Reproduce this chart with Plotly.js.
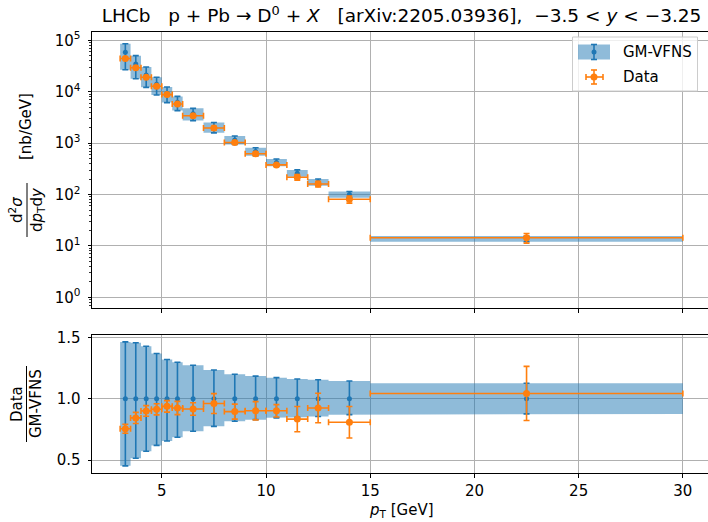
<!DOCTYPE html>
<html><head><meta charset="utf-8">
<script src="https://cdn.plot.ly/plotly-3.0.1.min.js"></script>
<style>html,body{margin:0;padding:0;overflow:hidden;background:#fff;width:708px;height:522px}</style>
</head><body><div id="chart" style="width:711px;height:522px"></div>
<script>
// pT bins [GeV]
const binLo = [3, 3.5, 4, 4.5, 5, 5.5, 6, 7, 8, 9, 10, 11, 12, 13, 15];
const binHi = [3.5, 4, 4.5, 5, 5.5, 6, 7, 8, 9, 10, 11, 12, 13, 15, 30];
const binCenter = [3.25, 3.75, 4.25, 4.75, 5.25, 5.75, 6.5, 7.5, 8.5, 9.5, 10.5, 11.5, 12.5, 14, 22.5];
// GM-VFNS prediction (nb/GeV): central, lower, upper
const theory   = [59000, 34700, 21300, 14000, 9400, 6270, 3740, 2050, 1150, 688, 419, 260, 174, 100, 13.8];
const theoryLo = [26800, 17900, 12200, 8690, 6170, 4310, 2750, 1590, 940, 571, 354, 221, 149, 87.1, 12.1];
const theoryHi = [86300, 50500, 30400, 19150, 12400, 8130, 4760, 2530, 1380, 815, 491, 302, 201, 114.5, 15.55];
// LHCb data (nb/GeV) and uncertainty
const dataVal = [44600, 29300, 19200, 12800, 8820, 5800, 3430, 1970, 1030, 621, 378, 217, 161, 80.9, 14.4];
const dataErr = [2180, 1560, 916, 630, 442, 339, 191, 166, 70, 51, 21, 26.8, 20.9, 12.8, 3.04];
// tick labels
const yTopTicks = [1, 10, 100, 1000, 10000, 100000];
const yTopTickText = ['10<sup>0</sup>', '10<sup>1</sup>', '10<sup>2</sup>', '10<sup>3</sup>', '10<sup>4</sup>', '10<sup>5</sup>'];
const xTicks = [5, 10, 15, 20, 25, 30];
const yBotTicks = [0.5, 1.0, 1.5];

const C0 = '#1f77b4', C1 = '#ff7f0e', BAND = 'rgba(31,119,180,0.5)';
const FONT = 'DejaVu Sans, Liberation Sans, sans-serif';
const FS = 15;

// top band: one rectangle per bin
const bx = [], by = [];
for (let i = 0; i < binLo.length; i++) {
  bx.push(binLo[i], binHi[i], binHi[i], binLo[i], binLo[i], null);
  by.push(theoryLo[i], theoryLo[i], theoryHi[i], theoryHi[i], theoryLo[i], null);
}
// ratio quantities
const rData = dataVal.map((v, i) => v / theory[i]);
const rDataErr = dataErr.map((v, i) => v / theory[i]);
const rLo = theoryLo.map((v, i) => v / theory[i]);
const rHi = theoryHi.map((v, i) => v / theory[i]);
const ones = theory.map(v => v / v);
// bottom band: step polygon
const rbx = [], rby = [];
for (let i = 0; i < binLo.length; i++) { rbx.push(binLo[i], binHi[i]); rby.push(rHi[i], rHi[i]); }
for (let i = binLo.length - 1; i >= 0; i--) { rbx.push(binHi[i], binLo[i]); rby.push(rLo[i], rLo[i]); }
rbx.push(rbx[0]); rby.push(rby[0]);

const xErrPlus = binHi.map((h, i) => h - binCenter[i]);
const xErrMinus = binLo.map((l, i) => binCenter[i] - l);

const traces = [
  {x: bx, y: by, xaxis: 'x', yaxis: 'y', mode: 'lines', fill: 'toself', fillcolor: BAND, line: {width: 0}, hoverinfo: 'skip', showlegend: false},
  {x: binCenter, y: theory, xaxis: 'x', yaxis: 'y', mode: 'markers', marker: {color: C0, size: 5},
   error_y: {type: 'data', symmetric: false, array: theoryHi.map((h, i) => h - theory[i]), arrayminus: theoryLo.map((l, i) => theory[i] - l), color: C0, thickness: 1.6, width: 3}, showlegend: false},
  {x: binCenter, y: dataVal, xaxis: 'x', yaxis: 'y', mode: 'markers', marker: {color: C1, size: 7},
   error_x: {type: 'data', symmetric: false, array: xErrPlus, arrayminus: xErrMinus, color: C1, thickness: 1.6, width: 3},
   error_y: {type: 'data', array: dataErr, color: C1, thickness: 1.6, width: 3}, showlegend: false},
  {x: rbx, y: rby, xaxis: 'x2', yaxis: 'y2', mode: 'lines', fill: 'toself', fillcolor: BAND, line: {width: 0}, hoverinfo: 'skip', showlegend: false},
  {x: binCenter, y: ones, xaxis: 'x2', yaxis: 'y2', mode: 'markers', marker: {color: C0, size: 5},
   error_y: {type: 'data', symmetric: false, array: rHi.map(v => v - 1), arrayminus: rLo.map(v => 1 - v), color: C0, thickness: 1.6, width: 3}, showlegend: false},
  {x: binCenter, y: rData, xaxis: 'x2', yaxis: 'y2', mode: 'markers', marker: {color: C1, size: 7},
   error_x: {type: 'data', symmetric: false, array: xErrPlus, arrayminus: xErrMinus, color: C1, thickness: 1.6, width: 3},
   error_y: {type: 'data', array: rDataErr, color: C1, thickness: 1.6, width: 3}, showlegend: false}
];

// pixel -> paper helpers
const L = 92, T = 32, W = 619, H = 441;
const px = p => (p - L) / W;
const py = p => (T + H - p) / H;

const minorVals = [];
for (let d = -1; d <= 5; d++) for (let k = 2; k <= 9; k++) minorVals.push(k * Math.pow(10, d));

const axBase = {showline: true, mirror: true, linecolor: '#000', linewidth: 1, ticks: 'outside', ticklen: 3.5, tickwidth: 1, tickcolor: '#000',
  showgrid: true, gridcolor: '#b0b0b0', gridwidth: 1, zeroline: false, tickfont: {family: FONT, size: FS, color: '#000'}};

const shapes = [];
const ann = [];
function line(x0, y0, x1, y1, color, w) {
  shapes.push({type: 'line', xref: 'paper', yref: 'paper', x0: px(x0), y0: py(y0), x1: px(x1), y1: py(y1), line: {color: color, width: w}});
}
function circ(cx, cy, r, color) {
  shapes.push({type: 'circle', xref: 'paper', yref: 'paper', x0: px(cx - r), x1: px(cx + r), y0: py(cy + r), y1: py(cy - r), fillcolor: color, line: {width: 0}});
}
// legend box
shapes.push({type: 'rect', xref: 'paper', yref: 'paper', x0: px(572.5), x1: px(697.5), y0: py(91), y1: py(37), fillcolor: 'rgba(255,255,255,0.8)', line: {color: '#cccccc', width: 1}});
shapes.push({type: 'rect', xref: 'paper', yref: 'paper', x0: px(578), x1: px(610), y0: py(59.5), y1: py(44.5), fillcolor: BAND, line: {width: 0}});
line(594, 44.5, 594, 59.5, C0, 1.6); line(591, 44.5, 597, 44.5, C0, 1.6); line(591, 59.5, 597, 59.5, C0, 1.6);
circ(594, 52, 2.5, C0);
line(586, 77, 603, 77, C1, 1.6); line(594, 70, 594, 84, C1, 1.6);
line(586, 74, 586, 80, C1, 1.6); line(603, 74, 603, 80, C1, 1.6);
line(591, 70, 597, 70, C1, 1.6); line(591, 84, 597, 84, C1, 1.6);
circ(594, 77, 3.5, C1);
ann.push({xref: 'paper', yref: 'paper', x: px(621), y: py(52), xanchor: 'left', yanchor: 'middle', showarrow: false, text: 'GM-VFNS', font: {family: FONT, size: FS, color: '#000'}});
ann.push({xref: 'paper', yref: 'paper', x: px(621), y: py(77), xanchor: 'left', yanchor: 'middle', showarrow: false, text: 'Data', font: {family: FONT, size: FS, color: '#000'}});

// y-axis title top (fraction)
ann.push({xref: 'paper', yref: 'paper', x: px(26), y: py(127), textangle: -90, showarrow: false, xanchor: 'center', yanchor: 'middle', text: '[nb/GeV]', font: {family: FONT, size: FS, color: '#000'}});
ann.push({xref: 'paper', yref: 'paper', x: px(16), y: py(210), textangle: -90, showarrow: false, xanchor: 'center', yanchor: 'middle', text: 'd<sup>2</sup><i>σ</i>', font: {family: FONT, size: FS, color: '#000'}});
ann.push({xref: 'paper', yref: 'paper', x: px(37), y: py(210), textangle: -90, showarrow: false, xanchor: 'center', yanchor: 'middle', text: 'd<i>p</i><sub>T</sub>d<i>y</i>', font: {family: FONT, size: FS, color: '#000'}});
line(27, 183, 27, 237, '#000', 1);
// y-axis title bottom (fraction)
ann.push({xref: 'paper', yref: 'paper', x: px(17), y: py(404), textangle: -90, showarrow: false, xanchor: 'center', yanchor: 'middle', text: 'Data', font: {family: FONT, size: FS, color: '#000'}});
ann.push({xref: 'paper', yref: 'paper', x: px(36), y: py(404), textangle: -90, showarrow: false, xanchor: 'center', yanchor: 'middle', text: 'GM-VFNS', font: {family: FONT, size: FS, color: '#000'}});
line(26.5, 366, 26.5, 442, '#000', 1);
// x-axis title
ann.push({xref: 'paper', yref: 'paper', x: px(401), y: py(510), showarrow: false, xanchor: 'center', yanchor: 'middle', text: '<i>p</i><sub>T</sub> [GeV]', font: {family: FONT, size: FS, color: '#000'}});

const layout = {
  width: 711, height: 522, autosize: false,
  margin: {l: L, r: 0, t: T, b: 522 - T - H, pad: 0},
  paper_bgcolor: '#fff', plot_bgcolor: '#fff',
  showlegend: false,
  title: {text: 'LHCb\u00a0\u00a0\u00a0p + Pb → D<sup>0</sup> + <i>X</i>\u00a0\u00a0\u00a0[arXiv:2205.03936],\u00a0\u00a0−3.5 &lt; <i>y</i> &lt; −3.25',
          x: 0.5, xref: 'paper', xanchor: 'center', y: 1 - 16 / 522, yref: 'container', yanchor: 'middle',
          font: {family: FONT, size: 18.5, color: '#000'}},
  xaxis: Object.assign({}, axBase, {domain: [0, 1], anchor: 'y', range: [1.65, 31.35], tickvals: xTicks, tickmode: 'array', showticklabels: false}),
  yaxis: Object.assign({}, axBase, {domain: [(T + H - 308.3) / H, 1], anchor: 'x', type: 'log', range: [-0.214, 5.164],
          tickmode: 'array', tickvals: yTopTicks, ticktext: yTopTickText, ticklabelstandoff: 4,
          minor: {tickmode: 'array', tickvals: minorVals, ticks: 'outside', ticklen: 2, tickwidth: 0.8, tickcolor: '#000', showgrid: false}}),
  xaxis2: Object.assign({}, axBase, {domain: [0, 1], anchor: 'y2', range: [1.65, 31.35], tickvals: xTicks, ticktext: xTicks.map(String), tickmode: 'array'}),
  yaxis2: Object.assign({}, axBase, {domain: [0, (T + H - 335) / H], anchor: 'x2', range: [0.396, 1.519], tickmode: 'array', tickvals: yBotTicks, tickformat: '.1f', ticklabelstandoff: 4}),
  shapes: shapes,
  annotations: ann
};
Plotly.newPlot('chart', traces, layout, {displayModeBar: false, staticPlot: true});
</script></body></html>
